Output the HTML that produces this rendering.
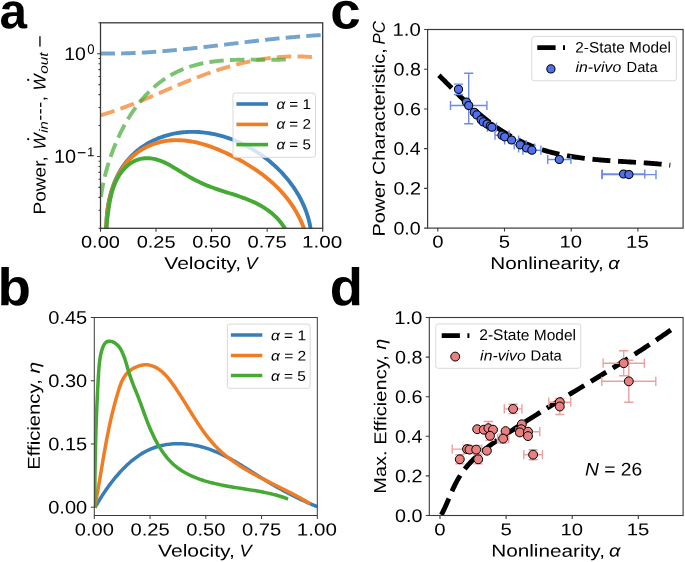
<!DOCTYPE html>
<html><head><meta charset="utf-8"><style>
html,body{margin:0;padding:0;background:#fff;width:685px;height:562px;overflow:hidden}
svg{display:block;will-change:transform}
text{font-family:"Liberation Sans",sans-serif;fill:#000}
</style></head><body>
<svg width="685" height="562" viewBox="0 0 685 562">
<rect width="685" height="562" fill="#fff"/>
<clipPath id="clipA"><rect x="100.50" y="22.80" width="222.20" height="205.50"/></clipPath>
<g clip-path="url(#clipA)" fill="none" stroke-linecap="butt">
<path d="M100.48,53.47 L101.89,53.49 L103.30,53.52 L104.70,53.53 L106.11,53.54 L107.52,53.55 L108.93,53.56 L110.33,53.56 L111.74,53.56 L113.14,53.55 L114.55,53.54 L115.96,53.52 L117.36,53.50 L118.77,53.48 L120.17,53.46 L121.58,53.43 L122.98,53.40 L124.38,53.36 L125.79,53.32 L127.19,53.28 L128.59,53.23 L130.00,53.18 L131.40,53.13 L132.80,53.07 L134.20,53.02 L135.60,52.95 L137.00,52.89 L138.41,52.82 L139.81,52.75 L141.21,52.68 L142.61,52.60 L144.01,52.52 L145.41,52.44 L146.81,52.35 L148.21,52.26 L149.61,52.17 L151.00,52.08 L152.40,51.99 L153.80,51.89 L155.20,51.79 L156.60,51.68 L158.00,51.58 L159.39,51.47 L160.79,51.36 L162.19,51.25 L163.59,51.13 L164.98,51.02 L166.38,50.90 L167.78,50.78 L169.17,50.65 L170.57,50.53 L171.97,50.40 L173.36,50.27 L174.76,50.14 L176.16,50.01 L177.55,49.88 L178.95,49.74 L180.34,49.60 L181.74,49.47 L183.13,49.32 L184.53,49.18 L185.92,49.04 L187.32,48.89 L188.71,48.75 L190.11,48.60 L191.50,48.45 L192.90,48.30 L194.29,48.15 L195.68,48.00 L197.08,47.84 L198.47,47.69 L199.87,47.53 L201.26,47.37 L202.66,47.22 L204.05,47.06 L205.44,46.90 L206.84,46.74 L208.23,46.58 L209.62,46.41 L211.02,46.25 L212.41,46.09 L213.80,45.92 L215.20,45.76 L216.59,45.59 L217.98,45.43 L219.38,45.26 L220.77,45.10 L222.16,44.93 L223.56,44.76 L224.95,44.60 L226.35,44.43 L227.74,44.26 L229.13,44.10 L230.53,43.93 L231.92,43.76 L233.31,43.59 L234.71,43.43 L236.10,43.26 L237.49,43.09 L238.89,42.92 L240.28,42.76 L241.67,42.59 L243.07,42.43 L244.46,42.26 L245.85,42.10 L247.25,41.93 L248.64,41.77 L250.04,41.60 L251.43,41.44 L252.82,41.28 L254.22,41.12 L255.61,40.96 L257.01,40.80 L258.40,40.64 L259.79,40.48 L261.19,40.32 L262.58,40.17 L263.98,40.01 L265.37,39.86 L266.77,39.70 L268.16,39.55 L269.56,39.40 L270.95,39.25 L272.35,39.10 L273.74,38.96 L275.14,38.81 L276.54,38.67 L277.93,38.52 L279.33,38.38 L280.72,38.24 L282.12,38.11 L283.52,37.97 L284.91,37.83 L286.31,37.70 L287.71,37.57 L289.11,37.44 L290.50,37.31 L291.90,37.19 L293.30,37.07 L294.70,36.94 L296.09,36.82 L297.49,36.71 L298.89,36.59 L300.29,36.48 L301.69,36.37 L303.09,36.26 L304.49,36.15 L305.89,36.05 L307.29,35.95 L308.69,35.85 L310.09,35.75 L311.49,35.66 L312.89,35.57 L314.29,35.48 L315.69,35.39 L317.09,35.31 L318.49,35.23 L319.90,35.15 L321.30,35.08 L322.70,35.01" stroke="#377eb8" stroke-opacity="0.7" stroke-width="3.90" stroke-dasharray="14.43 6.24"/>
<path d="M106.62,230.39 L106.55,228.40 L106.52,226.41 L106.51,224.41 L106.55,222.40 L106.61,220.39 L106.71,218.37 L106.84,216.35 L107.00,214.33 L107.20,212.30 L107.43,210.28 L107.69,208.27 L107.99,206.25 L108.33,204.24 L108.69,202.24 L109.10,200.24 L109.54,198.25 L110.01,196.27 L110.52,194.31 L111.07,192.35 L111.65,190.41 L112.27,188.48 L112.92,186.57 L113.61,184.68 L114.34,182.80 L115.10,180.95 L115.90,179.11 L116.74,177.30 L117.62,175.51 L118.53,173.74 L119.48,172.00 L120.48,170.29 L121.50,168.61 L122.57,166.95 L123.68,165.33 L124.82,163.74 L126.01,162.18 L127.23,160.65 L128.49,159.16 L129.80,157.71 L131.14,156.30 L132.52,154.92 L133.93,153.58 L135.38,152.28 L136.87,151.02 L138.38,149.79 L139.93,148.61 L141.51,147.46 L143.11,146.35 L144.75,145.28 L146.41,144.25 L148.09,143.26 L149.80,142.31 L151.53,141.41 L153.28,140.54 L155.06,139.71 L156.85,138.92 L158.65,138.17 L160.48,137.47 L162.32,136.81 L164.17,136.18 L166.03,135.60 L167.91,135.07 L169.79,134.57 L171.68,134.12 L173.59,133.71 L175.49,133.34 L177.41,133.01 L179.33,132.72 L181.26,132.48 L183.19,132.28 L185.13,132.11 L187.07,131.99 L189.01,131.90 L190.96,131.85 L192.91,131.85 L194.86,131.88 L196.82,131.95 L198.77,132.05 L200.72,132.19 L202.68,132.37 L204.63,132.59 L206.59,132.84 L208.54,133.13 L210.48,133.46 L212.43,133.81 L214.37,134.21 L216.31,134.64 L218.25,135.10 L220.17,135.59 L222.10,136.12 L224.01,136.68 L225.93,137.28 L227.83,137.90 L229.73,138.56 L231.61,139.25 L233.49,139.97 L235.36,140.72 L237.22,141.50 L239.07,142.31 L240.91,143.15 L242.74,144.02 L244.56,144.92 L246.36,145.84 L248.15,146.80 L249.93,147.78 L251.69,148.79 L253.44,149.83 L255.17,150.89 L256.89,151.98 L258.59,153.10 L260.27,154.24 L261.94,155.41 L263.59,156.60 L265.22,157.81 L266.84,159.05 L268.43,160.32 L270.00,161.60 L271.56,162.91 L273.09,164.25 L274.60,165.60 L276.09,166.98 L277.55,168.38 L279.00,169.79 L280.41,171.24 L281.81,172.70 L283.18,174.18 L284.52,175.68 L285.84,177.20 L287.14,178.74 L288.40,180.29 L289.64,181.87 L290.85,183.46 L292.04,185.07 L293.19,186.70 L294.31,188.35 L295.41,190.01 L296.47,191.69 L297.50,193.38 L298.50,195.09 L299.47,196.81 L300.41,198.55 L301.31,200.30 L302.18,202.07 L303.01,203.85 L303.81,205.64 L304.58,207.45 L305.31,209.27 L306.00,211.10 L306.65,212.94 L307.27,214.79 L307.85,216.66 L308.39,218.53 L308.89,220.42 L309.36,222.31 L309.78,224.22 L310.16,226.13 L310.50,228.06 L310.80,229.99 L311.05,231.93" stroke="#377eb8" stroke-width="3.90"/>
<path d="M100.77,115.19 L102.12,114.80 L103.47,114.40 L104.82,114.00 L106.17,113.58 L107.52,113.17 L108.86,112.74 L110.21,112.31 L111.55,111.87 L112.88,111.43 L114.22,110.98 L115.56,110.52 L116.89,110.06 L118.22,109.60 L119.55,109.12 L120.88,108.65 L122.21,108.16 L123.53,107.68 L124.86,107.18 L126.18,106.69 L127.50,106.19 L128.82,105.68 L130.14,105.17 L131.46,104.66 L132.78,104.14 L134.09,103.62 L135.41,103.09 L136.72,102.57 L138.04,102.03 L139.35,101.50 L140.66,100.96 L141.97,100.42 L143.28,99.88 L144.59,99.34 L145.90,98.79 L147.21,98.24 L148.51,97.69 L149.82,97.14 L151.13,96.59 L152.43,96.03 L153.74,95.47 L155.05,94.92 L156.35,94.36 L157.66,93.80 L158.96,93.24 L160.27,92.68 L161.57,92.12 L162.87,91.56 L164.18,91.00 L165.48,90.44 L166.79,89.88 L168.09,89.32 L169.40,88.76 L170.70,88.20 L172.01,87.64 L173.32,87.09 L174.62,86.53 L175.93,85.98 L177.24,85.43 L178.54,84.88 L179.85,84.33 L181.16,83.79 L182.47,83.24 L183.78,82.70 L185.09,82.17 L186.41,81.63 L187.72,81.10 L189.03,80.57 L190.35,80.04 L191.66,79.52 L192.98,79.00 L194.30,78.48 L195.62,77.97 L196.94,77.46 L198.26,76.96 L199.58,76.46 L200.90,75.96 L202.23,75.47 L203.55,74.98 L204.88,74.50 L206.21,74.02 L207.54,73.54 L208.87,73.07 L210.20,72.61 L211.53,72.15 L212.87,71.69 L214.20,71.24 L215.54,70.79 L216.88,70.35 L218.22,69.91 L219.56,69.48 L220.90,69.06 L222.24,68.64 L223.59,68.22 L224.93,67.81 L226.28,67.41 L227.63,67.01 L228.98,66.62 L230.33,66.24 L231.69,65.86 L233.04,65.48 L234.40,65.11 L235.76,64.75 L237.12,64.40 L238.48,64.05 L239.84,63.71 L241.21,63.37 L242.57,63.05 L243.94,62.72 L245.31,62.41 L246.68,62.10 L248.06,61.80 L249.43,61.51 L250.81,61.22 L252.19,60.94 L253.57,60.67 L254.95,60.41 L256.33,60.15 L257.72,59.90 L259.11,59.66 L260.50,59.43 L261.89,59.21 L263.28,58.99 L264.68,58.78 L266.08,58.58 L267.47,58.39 L268.88,58.21 L270.28,58.03 L271.68,57.87 L273.09,57.71 L274.50,57.56 L275.91,57.42 L277.33,57.29 L278.74,57.17 L280.16,57.05 L281.58,56.95 L283.00,56.86 L284.42,56.77 L285.85,56.70 L287.28,56.63 L288.71,56.57 L290.14,56.53 L291.58,56.49 L293.02,56.46 L294.46,56.45 L295.90,56.44 L297.34,56.44 L298.79,56.46 L300.24,56.48 L301.69,56.51 L303.14,56.56 L304.60,56.62 L306.06,56.68 L307.52,56.76 L308.98,56.85 L310.45,56.95 L311.92,57.06 L313.39,57.18 L314.86,57.31 L316.34,57.45" stroke="#f07d23" stroke-opacity="0.7" stroke-width="3.90" stroke-dasharray="14.43 6.24"/>
<path d="M106.42,230.19 L106.39,228.42 L106.38,226.63 L106.40,224.82 L106.44,223.00 L106.51,221.17 L106.61,219.32 L106.74,217.47 L106.90,215.60 L107.09,213.73 L107.30,211.85 L107.55,209.97 L107.82,208.08 L108.12,206.19 L108.46,204.31 L108.82,202.42 L109.22,200.54 L109.64,198.66 L110.10,196.79 L110.59,194.93 L111.11,193.07 L111.66,191.23 L112.24,189.40 L112.86,187.58 L113.51,185.78 L114.19,183.99 L114.91,182.22 L115.66,180.48 L116.45,178.75 L117.26,177.05 L118.12,175.37 L119.01,173.72 L119.93,172.10 L120.89,170.50 L121.88,168.94 L122.91,167.40 L123.98,165.90 L125.08,164.44 L126.22,163.01 L127.40,161.63 L128.61,160.28 L129.87,158.97 L131.15,157.70 L132.48,156.48 L133.84,155.30 L135.23,154.16 L136.65,153.06 L138.10,152.01 L139.59,151.00 L141.10,150.03 L142.63,149.11 L144.20,148.23 L145.78,147.39 L147.39,146.60 L149.03,145.85 L150.68,145.15 L152.35,144.50 L154.04,143.88 L155.75,143.32 L157.47,142.80 L159.21,142.32 L160.96,141.90 L162.72,141.52 L164.49,141.18 L166.27,140.89 L168.06,140.65 L169.86,140.46 L171.66,140.31 L173.47,140.22 L175.28,140.16 L177.10,140.15 L178.92,140.19 L180.75,140.26 L182.57,140.38 L184.40,140.54 L186.24,140.74 L188.07,140.97 L189.90,141.25 L191.74,141.56 L193.58,141.90 L195.41,142.28 L197.25,142.70 L199.08,143.14 L200.91,143.62 L202.74,144.13 L204.57,144.67 L206.39,145.23 L208.21,145.83 L210.03,146.45 L211.84,147.09 L213.64,147.76 L215.44,148.46 L217.24,149.17 L219.03,149.91 L220.81,150.67 L222.58,151.44 L224.35,152.24 L226.11,153.05 L227.86,153.88 L229.60,154.73 L231.33,155.59 L233.05,156.46 L234.76,157.34 L236.45,158.24 L238.14,159.15 L239.82,160.06 L241.48,160.99 L243.13,161.93 L244.77,162.88 L246.39,163.85 L248.00,164.82 L249.60,165.81 L251.18,166.80 L252.75,167.81 L254.31,168.84 L255.85,169.87 L257.38,170.92 L258.89,171.99 L260.38,173.06 L261.86,174.15 L263.33,175.26 L264.78,176.38 L266.21,177.51 L267.62,178.66 L269.02,179.82 L270.40,181.00 L271.77,182.20 L273.11,183.41 L274.44,184.63 L275.75,185.87 L277.04,187.13 L278.31,188.41 L279.57,189.70 L280.80,191.01 L282.01,192.34 L283.21,193.68 L284.38,195.05 L285.54,196.43 L286.67,197.83 L287.78,199.24 L288.87,200.68 L289.94,202.14 L290.99,203.61 L292.02,205.11 L293.02,206.62 L294.00,208.16 L294.96,209.71 L295.90,211.29 L296.81,212.88 L297.70,214.50 L298.56,216.14 L299.40,217.80 L300.22,219.48 L301.01,221.19 L301.78,222.91 L302.52,224.66 L303.24,226.43 L303.93,228.23 L304.59,230.05 L305.23,231.89" stroke="#f07d23" stroke-width="3.90"/>
<path d="M100.89,196.97 L101.12,195.42 L101.36,193.86 L101.61,192.30 L101.87,190.73 L102.15,189.15 L102.45,187.57 L102.75,185.98 L103.07,184.38 L103.41,182.78 L103.76,181.17 L104.12,179.56 L104.49,177.95 L104.88,176.33 L105.28,174.71 L105.70,173.08 L106.13,171.46 L106.57,169.83 L107.02,168.20 L107.49,166.56 L107.98,164.93 L108.48,163.30 L108.99,161.66 L109.51,160.03 L110.05,158.40 L110.60,156.76 L111.17,155.13 L111.75,153.51 L112.34,151.88 L112.95,150.26 L113.57,148.63 L114.21,147.02 L114.86,145.40 L115.52,143.79 L116.20,142.19 L116.89,140.59 L117.59,139.00 L118.31,137.41 L119.05,135.83 L119.79,134.25 L120.56,132.68 L121.33,131.12 L122.12,129.57 L122.92,128.02 L123.74,126.49 L124.57,124.96 L125.42,123.44 L126.28,121.94 L127.15,120.44 L128.04,118.95 L128.94,117.47 L129.86,116.01 L130.79,114.56 L131.73,113.12 L132.69,111.69 L133.67,110.27 L134.65,108.87 L135.65,107.48 L136.67,106.11 L137.70,104.75 L138.75,103.41 L139.81,102.08 L140.88,100.77 L141.97,99.47 L143.07,98.19 L144.19,96.93 L145.32,95.68 L146.46,94.45 L147.62,93.24 L148.80,92.05 L149.99,90.88 L151.19,89.73 L152.41,88.59 L153.64,87.48 L154.89,86.39 L156.15,85.32 L157.42,84.27 L158.72,83.24 L160.02,82.23 L161.34,81.25 L162.68,80.29 L164.02,79.35 L165.39,78.44 L166.77,77.55 L168.16,76.68 L169.57,75.84 L170.99,75.02 L172.42,74.23 L173.87,73.46 L175.33,72.71 L176.80,71.99 L178.29,71.29 L179.79,70.61 L181.30,69.95 L182.82,69.32 L184.35,68.71 L185.90,68.13 L187.45,67.56 L189.02,67.02 L190.60,66.50 L192.18,66.01 L193.78,65.53 L195.39,65.08 L197.00,64.65 L198.63,64.25 L200.26,63.86 L201.90,63.50 L203.55,63.16 L205.21,62.84 L206.88,62.54 L208.55,62.25 L210.23,61.99 L211.92,61.74 L213.62,61.52 L215.31,61.31 L217.02,61.11 L218.73,60.93 L220.44,60.77 L222.16,60.62 L223.88,60.48 L225.61,60.36 L227.34,60.25 L229.07,60.15 L230.81,60.06 L232.55,59.98 L234.29,59.92 L236.03,59.86 L237.77,59.81 L239.51,59.77 L241.26,59.74 L243.00,59.71 L244.74,59.70 L246.49,59.68 L248.23,59.67 L249.97,59.67 L251.71,59.67 L253.44,59.67 L255.18,59.68 L256.91,59.69 L258.64,59.70 L260.36,59.71 L262.08,59.72 L263.80,59.73 L265.51,59.74 L267.22,59.74 L268.93,59.75 L270.62,59.75 L272.31,59.75 L274.00,59.74 L275.68,59.73 L277.35,59.72 L279.01,59.70 L280.67,59.67 L282.32,59.63 L283.96,59.59 L285.59,59.54 L287.21,59.48 L288.82,59.41 L290.42,59.33 L292.02,59.24" stroke="#44aa34" stroke-opacity="0.7" stroke-width="3.90" stroke-dasharray="14.43 6.24"/>
<path d="M105.75,229.80 L105.98,228.42 L106.20,227.01 L106.41,225.57 L106.62,224.11 L106.82,222.62 L107.01,221.11 L107.21,219.59 L107.40,218.04 L107.60,216.48 L107.79,214.91 L108.00,213.32 L108.21,211.72 L108.43,210.11 L108.66,208.50 L108.90,206.87 L109.16,205.25 L109.43,203.62 L109.72,201.99 L110.02,200.36 L110.35,198.73 L110.70,197.10 L111.08,195.48 L111.48,193.87 L111.90,192.27 L112.36,190.68 L112.85,189.10 L113.37,187.54 L113.92,185.99 L114.51,184.45 L115.14,182.94 L115.81,181.45 L116.52,179.98 L117.27,178.54 L118.06,177.12 L118.91,175.73 L119.79,174.36 L120.72,173.04 L121.69,171.75 L122.70,170.50 L123.75,169.30 L124.84,168.14 L125.96,167.03 L127.12,165.97 L128.31,164.97 L129.54,164.02 L130.79,163.14 L132.08,162.33 L133.39,161.58 L134.74,160.90 L136.10,160.30 L137.49,159.77 L138.91,159.32 L140.34,158.95 L141.80,158.66 L143.27,158.44 L144.75,158.29 L146.24,158.22 L147.75,158.21 L149.26,158.28 L150.77,158.41 L152.29,158.61 L153.80,158.87 L155.31,159.20 L156.82,159.59 L158.32,160.04 L159.81,160.55 L161.29,161.11 L162.76,161.71 L164.23,162.37 L165.69,163.06 L167.14,163.79 L168.58,164.55 L170.02,165.33 L171.45,166.14 L172.87,166.97 L174.29,167.81 L175.70,168.66 L177.11,169.52 L178.51,170.37 L179.91,171.22 L181.30,172.07 L182.68,172.91 L184.07,173.73 L185.45,174.55 L186.82,175.35 L188.20,176.15 L189.58,176.93 L190.96,177.70 L192.34,178.46 L193.72,179.20 L195.11,179.93 L196.50,180.65 L197.89,181.35 L199.29,182.04 L200.70,182.71 L202.12,183.37 L203.54,184.01 L204.97,184.63 L206.42,185.23 L207.87,185.82 L209.33,186.39 L210.80,186.95 L212.28,187.50 L213.76,188.03 L215.25,188.56 L216.75,189.07 L218.25,189.58 L219.75,190.08 L221.27,190.57 L222.78,191.06 L224.30,191.55 L225.81,192.04 L227.33,192.52 L228.86,193.00 L230.38,193.49 L231.90,193.97 L233.42,194.46 L234.94,194.96 L236.46,195.46 L237.97,195.97 L239.48,196.49 L240.99,197.01 L242.49,197.55 L243.99,198.10 L245.48,198.67 L246.97,199.24 L248.45,199.83 L249.92,200.44 L251.38,201.07 L252.84,201.72 L254.28,202.38 L255.72,203.07 L257.15,203.78 L258.56,204.52 L259.96,205.28 L261.35,206.06 L262.73,206.87 L264.10,207.71 L265.44,208.58 L266.78,209.48 L268.09,210.41 L269.38,211.36 L270.66,212.34 L271.90,213.36 L273.13,214.39 L274.32,215.46 L275.49,216.56 L276.63,217.68 L277.73,218.83 L278.80,220.01 L279.84,221.21 L280.83,222.45 L281.79,223.71 L282.71,225.00 L283.59,226.31 L284.42,227.65 L285.20,229.02 L285.94,230.42 L286.63,231.84" stroke="#44aa34" stroke-width="3.90"/>
</g>
<rect x="100.50" y="22.80" width="222.20" height="205.50" fill="none" stroke="#3a3a3a" stroke-width="1.30"/>
<path d="M100.50,228.30v3.4 M156.05,228.30v3.4 M211.60,228.30v3.4 M267.15,228.30v3.4 M322.70,228.30v3.4 M100.50,228.30h-2.00 M100.50,210.21h-2.00 M100.50,197.37h-2.00 M100.50,187.41h-2.00 M100.50,179.28h-2.00 M100.50,172.40h-2.00 M100.50,166.44h-2.00 M100.50,161.18h-2.00 M100.50,156.48h-3.40 M100.50,125.55h-2.00 M100.50,107.46h-2.00 M100.50,94.62h-2.00 M100.50,84.66h-2.00 M100.50,76.53h-2.00 M100.50,69.65h-2.00 M100.50,63.69h-2.00 M100.50,58.43h-2.00 M100.50,53.73h-3.40 M100.50,22.80h-2.00" stroke="#3a3a3a" stroke-width="1.1" fill="none"/>
<rect x="233" y="93" width="82.5" height="64.3" rx="2.5" fill="#fff" fill-opacity="0.8" stroke="#d9d9d9" stroke-width="1"/>
<path d="M236.4,104.0H268" stroke="#377eb8" stroke-width="3.6"/>
<path d="M236.4,124.4H268" stroke="#f07d23" stroke-width="3.6"/>
<path d="M236.4,144.6H268" stroke="#44aa34" stroke-width="3.6"/>
<clipPath id="clipB"><rect x="94.30" y="317.50" width="223.00" height="198.00"/></clipPath>
<g clip-path="url(#clipB)" fill="none" stroke-linecap="butt">
<path d="M94.93,507.54 L95.70,506.20 L96.49,504.85 L97.29,503.49 L98.11,502.12 L98.94,500.74 L99.79,499.35 L100.66,497.96 L101.55,496.57 L102.45,495.17 L103.37,493.77 L104.30,492.37 L105.25,490.97 L106.22,489.57 L107.20,488.17 L108.20,486.77 L109.21,485.38 L110.24,483.99 L111.29,482.61 L112.35,481.24 L113.42,479.88 L114.51,478.52 L115.62,477.18 L116.74,475.85 L117.88,474.53 L119.03,473.23 L120.20,471.94 L121.38,470.66 L122.58,469.41 L123.79,468.17 L125.02,466.95 L126.26,465.75 L127.51,464.58 L128.78,463.42 L130.07,462.29 L131.36,461.19 L132.68,460.11 L134.00,459.06 L135.34,458.03 L136.70,457.04 L138.07,456.07 L139.45,455.14 L140.84,454.24 L142.25,453.37 L143.67,452.54 L145.11,451.74 L146.56,450.98 L148.02,450.26 L149.50,449.58 L150.99,448.93 L152.49,448.33 L154.00,447.76 L155.52,447.24 L157.06,446.75 L158.60,446.30 L160.16,445.88 L161.72,445.51 L163.29,445.17 L164.87,444.86 L166.46,444.60 L168.05,444.36 L169.65,444.16 L171.26,444.00 L172.87,443.87 L174.48,443.78 L176.10,443.72 L177.72,443.69 L179.35,443.69 L180.97,443.73 L182.60,443.80 L184.23,443.90 L185.86,444.03 L187.49,444.19 L189.12,444.38 L190.75,444.61 L192.38,444.86 L194.00,445.14 L195.63,445.45 L197.24,445.79 L198.86,446.15 L200.47,446.55 L202.07,446.97 L203.67,447.41 L205.26,447.89 L206.85,448.39 L208.43,448.91 L210.00,449.46 L211.56,450.04 L213.11,450.64 L214.66,451.26 L216.20,451.91 L217.73,452.57 L219.25,453.26 L220.77,453.96 L222.28,454.69 L223.78,455.43 L225.28,456.19 L226.77,456.96 L228.26,457.75 L229.74,458.55 L231.21,459.37 L232.68,460.19 L234.15,461.03 L235.61,461.88 L237.06,462.74 L238.52,463.61 L239.97,464.48 L241.41,465.36 L242.85,466.25 L244.29,467.14 L245.73,468.03 L247.16,468.93 L248.60,469.83 L250.03,470.74 L251.46,471.64 L252.88,472.54 L254.31,473.44 L255.73,474.34 L257.16,475.23 L258.58,476.12 L260.01,477.00 L261.43,477.88 L262.85,478.76 L264.28,479.62 L265.70,480.49 L267.13,481.34 L268.56,482.19 L269.98,483.04 L271.41,483.88 L272.84,484.71 L274.28,485.54 L275.71,486.36 L277.15,487.17 L278.58,487.98 L280.03,488.78 L281.47,489.58 L282.92,490.37 L284.36,491.16 L285.82,491.93 L287.27,492.71 L288.73,493.47 L290.19,494.23 L291.66,494.98 L293.13,495.73 L294.61,496.47 L296.08,497.20 L297.57,497.93 L299.06,498.64 L300.55,499.36 L302.05,500.06 L303.55,500.76 L305.06,501.45 L306.58,502.14 L308.10,502.82 L309.62,503.49 L311.16,504.15 L312.70,504.81 L314.24,505.46 L315.79,506.10 L317.35,506.74" stroke="#377eb8" stroke-width="3.50"/>
<path d="M94.69,507.40 L95.16,504.97 L95.62,502.54 L96.07,500.13 L96.52,497.72 L96.96,495.31 L97.39,492.92 L97.81,490.52 L98.23,488.14 L98.64,485.76 L99.05,483.38 L99.46,481.01 L99.86,478.64 L100.26,476.28 L100.66,473.92 L101.05,471.56 L101.45,469.21 L101.84,466.86 L102.24,464.52 L102.64,462.17 L103.04,459.83 L103.44,457.50 L103.84,455.16 L104.25,452.82 L104.66,450.49 L105.08,448.16 L105.50,445.83 L105.93,443.50 L106.37,441.17 L106.81,438.84 L107.26,436.51 L107.72,434.18 L108.18,431.85 L108.66,429.52 L109.15,427.19 L109.65,424.86 L110.16,422.52 L110.68,420.19 L111.21,417.85 L111.76,415.51 L112.32,413.17 L112.90,410.82 L113.49,408.47 L114.09,406.12 L114.71,403.76 L115.35,401.41 L116.01,399.04 L116.69,396.68 L117.38,394.30 L118.09,391.93 L118.83,389.55 L119.60,387.18 L120.43,384.84 L121.34,382.54 L122.35,380.31 L123.49,378.17 L124.77,376.13 L126.21,374.21 L127.85,372.43 L129.67,370.81 L131.66,369.36 L133.77,368.09 L135.97,367.01 L138.23,366.13 L140.51,365.47 L142.79,365.03 L145.03,364.82 L147.20,364.86 L149.32,365.12 L151.38,365.60 L153.38,366.28 L155.33,367.14 L157.22,368.19 L159.06,369.39 L160.86,370.75 L162.61,372.24 L164.31,373.86 L165.98,375.59 L167.60,377.41 L169.19,379.32 L170.74,381.31 L172.26,383.35 L173.75,385.43 L175.22,387.55 L176.65,389.70 L178.06,391.84 L179.45,393.99 L180.82,396.13 L182.17,398.27 L183.51,400.40 L184.83,402.53 L186.14,404.64 L187.45,406.75 L188.74,408.85 L190.03,410.94 L191.32,413.01 L192.61,415.07 L193.89,417.12 L195.19,419.16 L196.48,421.17 L197.79,423.17 L199.10,425.15 L200.43,427.11 L201.77,429.06 L203.13,430.97 L204.50,432.87 L205.90,434.75 L207.32,436.59 L208.76,438.42 L210.23,440.21 L211.73,441.98 L213.26,443.72 L214.82,445.43 L216.42,447.11 L218.05,448.76 L219.73,450.37 L221.44,451.95 L223.19,453.50 L224.98,455.02 L226.80,456.51 L228.66,457.97 L230.55,459.40 L232.47,460.80 L234.42,462.18 L236.40,463.53 L238.40,464.86 L240.42,466.17 L242.47,467.46 L244.54,468.73 L246.63,469.97 L248.74,471.20 L250.86,472.42 L252.99,473.61 L255.14,474.80 L257.31,475.96 L259.48,477.12 L261.66,478.26 L263.84,479.40 L266.03,480.52 L268.23,481.64 L270.43,482.75 L272.62,483.85 L274.82,484.95 L277.01,486.04 L279.20,487.13 L281.39,488.22 L283.56,489.31 L285.73,490.39 L287.88,491.48 L290.03,492.58 L292.16,493.67 L294.27,494.77 L296.37,495.88 L298.45,496.99 L300.51,498.11 L302.55,499.24 L304.56,500.38 L306.55,501.53 L308.51,502.70 L310.45,503.87" stroke="#f07d23" stroke-width="3.50"/>
<path d="M94.68,507.36 L94.69,504.57 L94.71,501.79 L94.73,499.01 L94.75,496.24 L94.77,493.48 L94.80,490.72 L94.82,487.97 L94.85,485.22 L94.88,482.48 L94.91,479.75 L94.95,477.02 L94.99,474.29 L95.02,471.57 L95.07,468.85 L95.11,466.13 L95.16,463.42 L95.21,460.71 L95.26,458.00 L95.32,455.29 L95.37,452.59 L95.43,449.88 L95.50,447.18 L95.56,444.48 L95.63,441.78 L95.71,439.07 L95.78,436.37 L95.86,433.67 L95.95,430.96 L96.03,428.26 L96.12,425.55 L96.22,422.84 L96.31,420.13 L96.41,417.41 L96.52,414.69 L96.63,411.97 L96.74,409.24 L96.85,406.51 L96.97,403.78 L97.10,401.04 L97.23,398.29 L97.36,395.54 L97.50,392.79 L97.64,390.03 L97.78,387.26 L97.94,384.48 L98.09,381.70 L98.25,378.91 L98.41,376.11 L98.58,373.31 L98.76,370.50 L98.97,367.68 L99.21,364.86 L99.51,362.05 L99.89,359.24 L100.36,356.44 L100.93,353.66 L101.63,350.90 L102.48,348.18 L103.51,345.66 L104.77,343.55 L106.30,342.05 L108.11,341.27 L110.11,341.15 L112.21,341.62 L114.31,342.59 L116.31,343.99 L118.13,345.74 L119.74,347.79 L121.16,350.09 L122.43,352.61 L123.56,355.30 L124.59,358.13 L125.54,361.04 L126.43,364.01 L127.29,366.99 L128.15,369.94 L129.03,372.82 L129.94,375.61 L130.88,378.32 L131.85,380.96 L132.82,383.54 L133.81,386.07 L134.80,388.56 L135.79,391.02 L136.77,393.46 L137.74,395.89 L138.69,398.32 L139.62,400.76 L140.53,403.22 L141.42,405.68 L142.31,408.16 L143.21,410.65 L144.11,413.15 L145.03,415.67 L145.97,418.20 L146.94,420.75 L147.95,423.32 L148.99,425.89 L150.07,428.46 L151.19,431.03 L152.36,433.59 L153.56,436.14 L154.82,438.66 L156.12,441.15 L157.47,443.61 L158.87,446.03 L160.33,448.40 L161.84,450.72 L163.41,452.98 L165.04,455.18 L166.72,457.31 L168.48,459.35 L170.29,461.32 L172.18,463.20 L174.13,464.98 L176.15,466.67 L178.23,468.27 L180.37,469.78 L182.58,471.20 L184.84,472.55 L187.15,473.82 L189.52,475.01 L191.93,476.14 L194.39,477.19 L196.89,478.19 L199.43,479.12 L202.01,480.00 L204.62,480.83 L207.26,481.60 L209.94,482.33 L212.64,483.02 L215.36,483.67 L218.11,484.28 L220.87,484.86 L223.65,485.42 L226.45,485.94 L229.25,486.45 L232.06,486.93 L234.88,487.41 L237.69,487.87 L240.51,488.32 L243.32,488.77 L246.13,489.21 L248.93,489.66 L251.72,490.12 L254.49,490.58 L257.25,491.06 L259.98,491.55 L262.70,492.06 L265.39,492.60 L268.05,493.16 L270.68,493.75 L273.28,494.37 L275.84,495.04 L278.37,495.74 L280.85,496.48 L283.29,497.28 L285.68,498.12 L288.03,499.02" stroke="#44aa34" stroke-width="3.50"/>
</g>
<rect x="94.30" y="317.50" width="223.00" height="198.00" fill="none" stroke="#3a3a3a" stroke-width="1.00"/>
<path d="M94.30,515.50v3.5 M150.05,515.50v3.5 M205.80,515.50v3.5 M261.55,515.50v3.5 M317.30,515.50v3.5 M94.30,507.20h-3.5 M94.30,443.98h-3.5 M94.30,380.75h-3.5 M94.30,317.52h-3.5" stroke="#3a3a3a" stroke-width="1.0" fill="none"/>
<rect x="227.4" y="324.1" width="82.8" height="64.2" rx="2.5" fill="#fff" fill-opacity="0.8" stroke="#d9d9d9" stroke-width="1"/>
<path d="M230.9,335.0H262.3" stroke="#377eb8" stroke-width="3.5"/>
<path d="M230.9,355.4H262.3" stroke="#f07d23" stroke-width="3.5"/>
<path d="M230.9,375.6H262.3" stroke="#44aa34" stroke-width="3.5"/>
<clipPath id="clipC"><rect x="427.60" y="29.50" width="255.50" height="198.60"/></clipPath>
<g clip-path="url(#clipC)">
<path d="M438.95,75.35 L440.10,76.48 L441.25,77.62 L442.40,78.75 L443.55,79.90 L444.70,81.04 L445.85,82.19 L447.00,83.34 L448.16,84.49 L449.31,85.64 L450.47,86.79 L451.63,87.95 L452.78,89.10 L453.95,90.26 L455.11,91.41 L456.27,92.56 L457.44,93.72 L458.61,94.87 L459.78,96.02 L460.96,97.16 L462.14,98.31 L463.32,99.45 L464.50,100.58 L465.69,101.72 L466.88,102.84 L468.08,103.97 L469.28,105.09 L470.48,106.20 L471.69,107.31 L472.90,108.41 L474.12,109.51 L475.34,110.59 L476.57,111.68 L477.80,112.75 L479.04,113.81 L480.28,114.87 L481.53,115.92 L482.78,116.95 L484.04,117.98 L485.31,119.00 L486.58,120.01 L487.86,121.01 L489.15,121.99 L490.44,122.97 L491.74,123.93 L493.05,124.88 L494.36,125.82 L495.68,126.74 L497.01,127.66 L498.34,128.56 L499.68,129.44 L501.03,130.32 L502.39,131.18 L503.75,132.04 L505.12,132.87 L506.49,133.70 L507.87,134.51 L509.26,135.31 L510.65,136.10 L512.05,136.87 L513.46,137.63 L514.88,138.38 L516.30,139.11 L517.72,139.83 L519.16,140.54 L520.60,141.23 L522.04,141.91 L523.49,142.58 L524.95,143.23 L526.42,143.87 L527.89,144.49 L529.36,145.10 L530.85,145.70 L532.34,146.28 L533.83,146.85 L535.33,147.40 L536.84,147.94 L538.35,148.47 L539.87,148.98 L541.40,149.47 L542.93,149.96 L544.47,150.42 L546.01,150.88 L547.56,151.32 L549.11,151.74 L550.67,152.16 L552.23,152.56 L553.80,152.95 L555.37,153.33 L556.95,153.69 L558.53,154.04 L560.11,154.39 L561.70,154.72 L563.30,155.04 L564.89,155.35 L566.50,155.64 L568.10,155.93 L569.71,156.21 L571.32,156.48 L572.93,156.74 L574.55,156.99 L576.17,157.23 L577.80,157.47 L579.42,157.69 L581.05,157.91 L582.68,158.12 L584.31,158.32 L585.95,158.52 L587.58,158.70 L589.22,158.88 L590.86,159.06 L592.50,159.23 L594.15,159.39 L595.79,159.55 L597.43,159.70 L599.08,159.84 L600.73,159.99 L602.37,160.12 L604.02,160.26 L605.67,160.38 L607.32,160.51 L608.97,160.63 L610.61,160.75 L612.26,160.86 L613.91,160.97 L615.56,161.08 L617.20,161.19 L618.85,161.30 L620.50,161.40 L622.14,161.50 L623.78,161.60 L625.42,161.70 L627.06,161.80 L628.70,161.90 L630.34,162.00 L631.97,162.10 L633.61,162.20 L635.24,162.30 L636.87,162.40 L638.49,162.50 L640.12,162.60 L641.74,162.71 L643.35,162.81 L644.97,162.92 L646.58,163.04 L648.19,163.15 L649.79,163.27 L651.40,163.39 L652.99,163.51 L654.59,163.64 L656.18,163.77 L657.76,163.91 L659.35,164.05 L660.92,164.19 L662.50,164.34 L664.06,164.50 L665.63,164.66 L667.19,164.83 L668.74,165.00 L670.29,165.18" fill="none" stroke="#000" stroke-width="4.85" stroke-dasharray="17.95 7.76"/>
<path d="M458.50,84.10V94.50 M453.90,84.10h9.20 M453.90,94.50h9.20 M468.70,73.30V123.70 M464.10,73.30h9.20 M464.10,123.70h9.20 M450.50,105.50H486.90 M450.50,100.90v9.20 M486.90,100.90v9.20 M487.40,127.20H496.40 M487.40,122.60v9.20 M496.40,122.60v9.20 M495.00,135.20H509.00 M495.00,130.60v9.20 M509.00,130.60v9.20 M504.60,140.00H518.60 M504.60,135.40v9.20 M518.60,135.40v9.20 M514.20,144.80H526.20 M514.20,140.20v9.20 M526.20,140.20v9.20 M518.60,148.00H534.60 M518.60,143.40v9.20 M534.60,143.40v9.20 M522.90,150.20H540.90 M522.90,145.60v9.20 M540.90,145.60v9.20 M547.70,159.50H570.90 M547.70,154.90v9.20 M570.90,154.90v9.20 M602.40,174.00H644.80 M602.40,169.40v9.20 M644.80,169.40v9.20 M601.80,174.60H656.00 M601.80,170.00v9.20 M656.00,170.00v9.20" fill="none" stroke="#6d8ce8" stroke-width="1.4"/>
<circle cx="458.50" cy="89.30" r="4.1" fill="#5070ec" stroke="#000" stroke-width="1.05"/>
<circle cx="466.40" cy="102.00" r="4.1" fill="#5070ec" stroke="#000" stroke-width="1.05"/>
<circle cx="468.70" cy="105.50" r="4.1" fill="#5070ec" stroke="#000" stroke-width="1.05"/>
<circle cx="474.30" cy="112.30" r="4.1" fill="#5070ec" stroke="#000" stroke-width="1.05"/>
<circle cx="476.90" cy="114.90" r="4.1" fill="#5070ec" stroke="#000" stroke-width="1.05"/>
<circle cx="481.20" cy="119.70" r="4.1" fill="#5070ec" stroke="#000" stroke-width="1.05"/>
<circle cx="483.30" cy="121.90" r="4.1" fill="#5070ec" stroke="#000" stroke-width="1.05"/>
<circle cx="487.10" cy="124.00" r="4.1" fill="#5070ec" stroke="#000" stroke-width="1.05"/>
<circle cx="490.30" cy="126.10" r="4.1" fill="#5070ec" stroke="#000" stroke-width="1.05"/>
<circle cx="491.90" cy="127.20" r="4.1" fill="#5070ec" stroke="#000" stroke-width="1.05"/>
<circle cx="502.00" cy="135.20" r="4.1" fill="#5070ec" stroke="#000" stroke-width="1.05"/>
<circle cx="504.70" cy="136.80" r="4.1" fill="#5070ec" stroke="#000" stroke-width="1.05"/>
<circle cx="511.60" cy="140.00" r="4.1" fill="#5070ec" stroke="#000" stroke-width="1.05"/>
<circle cx="520.20" cy="144.80" r="4.1" fill="#5070ec" stroke="#000" stroke-width="1.05"/>
<circle cx="526.60" cy="148.00" r="4.1" fill="#5070ec" stroke="#000" stroke-width="1.05"/>
<circle cx="531.90" cy="150.20" r="4.1" fill="#5070ec" stroke="#000" stroke-width="1.05"/>
<circle cx="559.30" cy="159.50" r="4.1" fill="#5070ec" stroke="#000" stroke-width="1.05"/>
<circle cx="623.60" cy="174.00" r="4.1" fill="#5070ec" stroke="#000" stroke-width="1.05"/>
<circle cx="628.90" cy="174.60" r="4.1" fill="#5070ec" stroke="#000" stroke-width="1.05"/>
</g>
<rect x="427.60" y="29.50" width="255.50" height="198.60" fill="none" stroke="#3a3a3a" stroke-width="1.2"/>
<path d="M437.80,228.10v3.5 M504.50,228.10v3.5 M571.20,228.10v3.5 M637.90,228.10v3.5 M427.60,228.10h-3.5 M427.60,188.38h-3.5 M427.60,148.66h-3.5 M427.60,108.94h-3.5 M427.60,69.22h-3.5 M427.60,29.50h-3.5" stroke="#3a3a3a" stroke-width="1.1" fill="none"/>
<rect x="531.8" y="36.4" width="144.6" height="44.4" rx="2.5" fill="#fff" fill-opacity="0.8" stroke="#d9d9d9" stroke-width="1"/>
<path d="M537.3,47.6H555.6 M563,47.6H565" stroke="#000" stroke-width="4.8"/>
<circle cx="550.9" cy="68.9" r="4.1" fill="#5070ec" stroke="#000" stroke-width="1.05"/>
<clipPath id="clipD"><rect x="429.30" y="317.50" width="253.80" height="198.00"/></clipPath>
<g clip-path="url(#clipD)">
<path d="M441.39,514.78 L442.26,513.09 L443.10,511.39 L443.93,509.67 L444.73,507.94 L445.52,506.20 L446.30,504.45 L447.07,502.69 L447.83,500.92 L448.59,499.15 L449.34,497.38 L450.10,495.61 L450.86,493.85 L451.63,492.09 L452.41,490.33 L453.20,488.59 L454.01,486.86 L454.83,485.15 L455.68,483.45 L456.54,481.77 L457.44,480.12 L458.36,478.48 L459.32,476.87 L460.31,475.29 L461.34,473.74 L462.40,472.21 L463.49,470.71 L464.61,469.24 L465.76,467.79 L466.95,466.36 L468.16,464.96 L469.39,463.58 L470.66,462.22 L471.95,460.88 L473.26,459.56 L474.60,458.26 L475.96,456.98 L477.34,455.72 L478.74,454.48 L480.16,453.25 L481.60,452.03 L483.05,450.83 L484.52,449.65 L486.01,448.48 L487.51,447.32 L489.03,446.17 L490.56,445.04 L492.10,443.91 L493.64,442.80 L495.20,441.69 L496.77,440.60 L498.34,439.50 L499.92,438.42 L501.51,437.34 L503.10,436.27 L504.69,435.20 L506.29,434.14 L507.88,433.07 L509.48,432.02 L511.08,430.96 L512.68,429.91 L514.29,428.86 L515.89,427.81 L517.50,426.77 L519.11,425.73 L520.72,424.69 L522.33,423.66 L523.94,422.62 L525.56,421.59 L527.17,420.56 L528.79,419.54 L530.40,418.51 L532.02,417.49 L533.64,416.47 L535.26,415.46 L536.88,414.44 L538.51,413.43 L540.13,412.42 L541.76,411.41 L543.38,410.40 L545.01,409.39 L546.63,408.39 L548.26,407.38 L549.89,406.38 L551.52,405.38 L553.15,404.38 L554.78,403.38 L556.41,402.38 L558.04,401.39 L559.67,400.39 L561.30,399.40 L562.94,398.40 L564.57,397.41 L566.20,396.42 L567.84,395.43 L569.47,394.44 L571.10,393.44 L572.74,392.45 L574.37,391.46 L576.00,390.47 L577.64,389.48 L579.27,388.49 L580.90,387.50 L582.54,386.51 L584.17,385.52 L585.80,384.53 L587.44,383.54 L589.07,382.55 L590.70,381.56 L592.33,380.57 L593.97,379.58 L595.60,378.58 L597.23,377.59 L598.86,376.60 L600.49,375.60 L602.11,374.61 L603.74,373.61 L605.37,372.61 L607.00,371.61 L608.62,370.61 L610.25,369.61 L611.87,368.60 L613.49,367.60 L615.12,366.59 L616.74,365.58 L618.36,364.57 L619.98,363.56 L621.59,362.55 L623.21,361.53 L624.83,360.52 L626.44,359.50 L628.05,358.48 L629.66,357.45 L631.27,356.43 L632.88,355.40 L634.49,354.37 L636.10,353.34 L637.70,352.30 L639.30,351.27 L640.90,350.22 L642.50,349.18 L644.10,348.14 L645.70,347.09 L647.29,346.03 L648.88,344.98 L650.47,343.92 L652.06,342.86 L653.65,341.80 L655.23,340.73 L656.82,339.66 L658.40,338.58 L659.98,337.50 L661.55,336.42 L663.13,335.34 L664.70,334.25 L666.27,333.15 L667.84,332.06 L669.40,330.96 L670.96,329.85 L672.52,328.74" fill="none" stroke="#000" stroke-width="4.85" stroke-dasharray="17.95 7.76"/>
<path d="M459.80,454.70V463.90 M455.20,454.70h9.20 M455.20,463.90h9.20 M452.20,449.10H481.80 M452.20,444.50v9.20 M481.80,444.50v9.20 M467.00,445.10V453.10 M462.40,445.10h9.20 M462.40,453.10h9.20 M476.20,445.60V453.60 M471.60,445.60h9.20 M471.60,453.60h9.20 M478.20,454.70V463.90 M473.60,454.70h9.20 M473.60,463.90h9.20 M488.40,421.50V434.90 M483.80,421.50h9.20 M483.80,434.90h9.20 M490.00,431.30V440.30 M485.40,431.30h9.20 M485.40,440.30h9.20 M497.50,438.60H508.70 M497.50,434.00v9.20 M508.70,434.00v9.20 M503.10,434.10V443.10 M498.50,434.10h9.20 M498.50,443.10h9.20 M504.30,408.90H521.90 M504.30,404.30v9.20 M521.90,404.30v9.20 M513.10,404.20V413.60 M508.50,404.20h9.20 M508.50,413.60h9.20 M516.20,431.70H539.80 M516.20,427.10v9.20 M539.80,427.10v9.20 M523.80,454.70H542.40 M523.80,450.10v9.20 M542.40,450.10v9.20 M533.10,449.70V459.70 M528.50,449.70h9.20 M528.50,459.70h9.20 M548.80,402.20H570.80 M548.80,397.60v9.20 M570.80,397.60v9.20 M559.80,398.50V414.50 M555.20,398.50h9.20 M555.20,414.50h9.20 M603.10,363.20H644.30 M603.10,358.60v9.20 M644.30,358.60v9.20 M623.70,350.70V375.70 M619.10,350.70h9.20 M619.10,375.70h9.20 M601.80,381.30H655.80 M601.80,376.70v9.20 M655.80,376.70v9.20 M628.80,360.30V402.30 M624.20,360.30h9.20 M624.20,402.30h9.20" fill="none" stroke="#eda0a0" stroke-width="1.4"/>
<circle cx="459.80" cy="459.30" r="4.45" fill="#ea7f80" stroke="#000" stroke-width="1.0"/>
<circle cx="467.00" cy="449.10" r="4.45" fill="#ea7f80" stroke="#000" stroke-width="1.0"/>
<circle cx="469.50" cy="449.60" r="4.45" fill="#ea7f80" stroke="#000" stroke-width="1.0"/>
<circle cx="476.20" cy="449.60" r="4.45" fill="#ea7f80" stroke="#000" stroke-width="1.0"/>
<circle cx="478.20" cy="459.30" r="4.45" fill="#ea7f80" stroke="#000" stroke-width="1.0"/>
<circle cx="486.90" cy="450.70" r="4.45" fill="#ea7f80" stroke="#000" stroke-width="1.0"/>
<circle cx="477.20" cy="429.20" r="4.45" fill="#ea7f80" stroke="#000" stroke-width="1.0"/>
<circle cx="483.80" cy="429.70" r="4.45" fill="#ea7f80" stroke="#000" stroke-width="1.0"/>
<circle cx="488.40" cy="428.20" r="4.45" fill="#ea7f80" stroke="#000" stroke-width="1.0"/>
<circle cx="493.00" cy="429.70" r="4.45" fill="#ea7f80" stroke="#000" stroke-width="1.0"/>
<circle cx="490.00" cy="435.80" r="4.45" fill="#ea7f80" stroke="#000" stroke-width="1.0"/>
<circle cx="505.60" cy="431.10" r="4.45" fill="#ea7f80" stroke="#000" stroke-width="1.0"/>
<circle cx="503.10" cy="438.60" r="4.45" fill="#ea7f80" stroke="#000" stroke-width="1.0"/>
<circle cx="513.10" cy="408.90" r="4.45" fill="#ea7f80" stroke="#000" stroke-width="1.0"/>
<circle cx="521.80" cy="424.30" r="4.45" fill="#ea7f80" stroke="#000" stroke-width="1.0"/>
<circle cx="521.20" cy="429.20" r="4.45" fill="#ea7f80" stroke="#000" stroke-width="1.0"/>
<circle cx="519.90" cy="432.40" r="4.45" fill="#ea7f80" stroke="#000" stroke-width="1.0"/>
<circle cx="528.00" cy="431.70" r="4.45" fill="#ea7f80" stroke="#000" stroke-width="1.0"/>
<circle cx="528.00" cy="436.10" r="4.45" fill="#ea7f80" stroke="#000" stroke-width="1.0"/>
<circle cx="533.10" cy="454.70" r="4.45" fill="#ea7f80" stroke="#000" stroke-width="1.0"/>
<circle cx="559.80" cy="402.20" r="4.45" fill="#ea7f80" stroke="#000" stroke-width="1.0"/>
<circle cx="559.80" cy="406.50" r="4.45" fill="#ea7f80" stroke="#000" stroke-width="1.0"/>
<circle cx="623.70" cy="363.20" r="4.45" fill="#ea7f80" stroke="#000" stroke-width="1.0"/>
<circle cx="628.80" cy="381.30" r="4.45" fill="#ea7f80" stroke="#000" stroke-width="1.0"/>
</g>
<rect x="429.30" y="317.50" width="253.80" height="198.00" fill="none" stroke="#3a3a3a" stroke-width="1.1"/>
<path d="M440.00,515.50v3.5 M506.10,515.50v3.5 M572.20,515.50v3.5 M638.30,515.50v3.5 M429.30,515.50h-3.5 M429.30,475.90h-3.5 M429.30,436.30h-3.5 M429.30,396.70h-3.5 M429.30,357.10h-3.5 M429.30,317.50h-3.5" stroke="#3a3a3a" stroke-width="1.1" fill="none"/>
<rect x="435.8" y="323.9" width="144.9" height="44.4" rx="2.5" fill="#fff" fill-opacity="0.8" stroke="#d9d9d9" stroke-width="1"/>
<path d="M441.7,335.6H459.9 M467.4,335.6H469.4" stroke="#000" stroke-width="4.8"/>
<circle cx="455.2" cy="356.6" r="4.45" fill="#ea7f80" stroke="#000" stroke-width="1.0"/>
<g fill="#000">
<circle cx="28.2" cy="139.2" r="1.1"/><circle cx="28.2" cy="79.9" r="1.1"/>
<rect x="40.05" y="102.6" width="1.3" height="4.4"/><rect x="40.05" y="109.2" width="1.3" height="4.4"/><rect x="40.05" y="115.6" width="1.3" height="4.2"/>
<rect x="39.3" y="36.2" width="1.3" height="10.4"/>
<rect x="77.8" y="152.1" width="7.7" height="1.2"/>
</g>
<g id="texts">
<g id="la" transform="matrix(0.95087 0 0 0.96628 -4.217 -6.511)"><text transform="rotate(0.05 4.00 36.00)" x="4.00" y="36.00" style="font-size:52.00px;font-weight:bold">a</text></g>
<g id="lb" transform="matrix(1.05198 0 0 1.01340 -6.742 -8.915)"><text transform="rotate(0.05 4.00 310.00)" x="4.00" y="310.00" style="font-size:52.00px;font-weight:bold">b</text></g>
<g id="lc" transform="matrix(1.05224 0 0 0.99417 -22.188 -7.250)"><text transform="rotate(0.05 335.00 36.00)" x="335.00" y="36.00" style="font-size:52.00px;font-weight:bold">c</text></g>
<g id="ld" transform="matrix(1.04558 0 0 1.01309 -16.380 -3.765)"><text transform="rotate(0.05 331.00 305.00)" x="331.00" y="305.00" style="font-size:52.00px;font-weight:bold">d</text></g>
<g id="axt0" transform="matrix(1.16065 0 0 0.97347 -18.221 6.681)"><text transform="rotate(0.05 85.50 247.50)" x="85.50" y="247.50" style="font-size:17.20px">0.00</text></g>
<g id="axt1" transform="matrix(1.16363 0 0 0.97159 -27.488 7.148)"><text transform="rotate(0.05 141.05 247.50)" x="141.05" y="247.50" style="font-size:17.20px">0.25</text></g>
<g id="axt2" transform="matrix(1.16065 0 0 0.97442 -35.952 6.446)"><text transform="rotate(0.05 196.60 247.50)" x="196.60" y="247.50" style="font-size:17.20px">0.50</text></g>
<g id="axt3" transform="matrix(1.17267 0 0 0.97663 -48.125 5.898)"><text transform="rotate(0.05 252.15 247.50)" x="252.15" y="247.50" style="font-size:17.20px">0.75</text></g>
<g id="axt4" transform="matrix(1.20155 0 0 0.97442 -67.607 6.446)"><text transform="rotate(0.05 307.70 247.50)" x="307.70" y="247.50" style="font-size:17.20px">1.00</text></g>
<g id="axl" transform="matrix(1.22565 0 0 1.00000 -37.975 0.000)"><text transform="rotate(0.05 165.00 268.90)" x="165.00" y="268.90" style="font-size:17.20px">Velocity,</text></g>
<g id="axl2" transform="matrix(1.05241 0 0 1.00000 -14.420 0.000)"><text transform="rotate(0.05 247.00 268.90)" x="247.00" y="268.90" style="font-size:17.20px;font-style:italic">V</text></g>
<g id="ay0" transform="matrix(1.12837 0 0 1.06663 -9.135 -3.895)"><text transform="rotate(0.05 65.00 60.00)" x="65.00" y="60.00" style="font-size:17.20px">10</text></g>
<g id="ay0s" transform="matrix(1.09336 0 0 1.12800 -8.973 -6.609)"><text transform="rotate(0.05 88.00 53.50)" x="88.00" y="53.50" style="font-size:12.00px">0</text></g>
<g id="ay1" transform="matrix(1.15776 0 0 1.09971 -9.707 -16.555)"><text transform="rotate(0.05 55.00 163.00)" x="55.00" y="163.00" style="font-size:17.20px">10</text></g>
<g id="ay1s" transform="matrix(1.10197 0 0 1.06654 -10.080 -10.180)"><text transform="rotate(0.05 88.00 156.00)" x="88.00" y="156.00" style="font-size:12.00px">1</text></g>
<g id="ayl1" transform="matrix(1.00000 0 0 1.11133 0.000 -22.136)"><text transform="translate(45.40,213.00) rotate(-89.95)" x="0" y="0" style="font-size:17.20px">Power,</text></g>
<g id="ayl2" transform="matrix(1.00000 0 0 0.99042 0.000 2.995)"><text transform="translate(45.40,148.00) rotate(-89.95)" x="0" y="0" style="font-size:17.20px;font-style:italic">W</text></g>
<g id="ayl3" transform="matrix(1.00000 0 0 1.22515 0.000 -28.910)"><text transform="translate(47.80,132.00) rotate(-89.95)" x="0" y="0" style="font-size:12.20px;font-style:italic">in</text></g>
<g id="ayl4" transform="matrix(1.00000 0 0 1.00000 0.000 0.000)"><text transform="translate(45.40,101.00) rotate(-89.95)" x="0" y="0" style="font-size:17.20px">,</text></g>
<g id="ayl5" transform="matrix(1.00000 0 0 0.99167 0.000 2.362)"><text transform="translate(45.40,88.80) rotate(-89.95)" x="0" y="0" style="font-size:17.20px;font-style:italic">W</text></g>
<g id="ayl6" transform="matrix(1.00000 0 0 1.25550 0.000 -18.116)"><text transform="translate(47.80,73.20) rotate(-89.95)" x="0" y="0" style="font-size:12.20px;font-style:italic">out</text></g>
<g id="alg0" transform="matrix(1.15560 0 0 1.07115 -43.668 -8.014)"><text transform="rotate(0.05 277.00 109.20)" x="277.00" y="109.20" style="font-size:13.20px"><tspan style="font-style:italic">α</tspan> = 1</text></g>
<g id="alg1" transform="matrix(1.15481 0 0 1.06605 -43.453 -8.717)"><text transform="rotate(0.05 277.00 129.00)" x="277.00" y="129.00" style="font-size:13.20px"><tspan style="font-style:italic">α</tspan> = 2</text></g>
<g id="alg2" transform="matrix(1.15229 0 0 1.06978 -42.748 -10.554)"><text transform="rotate(0.05 277.00 149.30)" x="277.00" y="149.30" style="font-size:13.20px"><tspan style="font-style:italic">α</tspan> = 5</text></g>
<g id="bxt0" transform="matrix(1.16913 0 0 1.02297 -17.970 -12.295)"><text transform="rotate(0.05 79.30 535.50)" x="79.30" y="535.50" style="font-size:17.20px">0.00</text></g>
<g id="bxt1" transform="matrix(1.17299 0 0 1.02099 -27.927 -11.233)"><text transform="rotate(0.05 135.05 535.50)" x="135.05" y="535.50" style="font-size:17.20px">0.25</text></g>
<g id="bxt2" transform="matrix(1.16998 0 0 1.02297 -37.003 -12.295)"><text transform="rotate(0.05 190.80 535.50)" x="190.80" y="535.50" style="font-size:17.20px">0.50</text></g>
<g id="bxt3" transform="matrix(1.17299 0 0 1.02596 -47.236 -13.871)"><text transform="rotate(0.05 246.55 535.50)" x="246.55" y="535.50" style="font-size:17.20px">0.75</text></g>
<g id="bxt4" transform="matrix(1.19611 0 0 1.02297 -64.727 -12.295)"><text transform="rotate(0.05 302.30 535.50)" x="302.30" y="535.50" style="font-size:17.20px">1.00</text></g>
<g id="bxl" transform="matrix(1.22478 0 0 1.00000 -37.864 0.000)"><text transform="rotate(0.05 160.00 556.60)" x="160.00" y="556.60" style="font-size:17.20px">Velocity,</text></g>
<g id="bxl2" transform="matrix(1.05743 0 0 1.00000 -15.295 0.000)"><text transform="rotate(0.05 241.00 556.60)" x="241.00" y="556.60" style="font-size:17.20px;font-style:italic">V</text></g>
<g id="byt0" transform="matrix(1.16136 0 0 1.05837 -9.797 -29.719)"><text transform="rotate(0.05 50.00 513.20)" x="50.00" y="513.20" style="font-size:17.20px">0.00</text></g>
<g id="byt1" transform="matrix(1.16406 0 0 1.05768 -9.938 -25.701)"><text transform="rotate(0.05 50.00 449.98)" x="50.00" y="449.98" style="font-size:17.20px">0.15</text></g>
<g id="byt2" transform="matrix(1.16136 0 0 1.05563 -9.792 -21.220)"><text transform="rotate(0.05 50.00 386.75)" x="50.00" y="386.75" style="font-size:17.20px">0.30</text></g>
<g id="byt3" transform="matrix(1.16363 0 0 1.05837 -9.898 -18.558)"><text transform="rotate(0.05 50.00 323.52)" x="50.00" y="323.52" style="font-size:17.20px">0.45</text></g>
<g id="byl" transform="matrix(1.00000 0 0 1.17980 0.000 -82.366)"><text transform="translate(39.70,468.00) rotate(-89.95)" x="0" y="0" style="font-size:17.20px">Efficiency,</text></g>
<g id="byl2" transform="matrix(1.00000 0 0 1.21983 0.000 -81.394)"><text transform="translate(39.70,373.00) rotate(-89.95)" x="0" y="0" style="font-size:17.20px;font-style:italic">η</text></g>
<g id="blg0" transform="matrix(1.17903 0 0 1.07403 -49.196 -25.255)"><text transform="rotate(0.05 271.50 340.25)" x="271.50" y="340.25" style="font-size:13.20px"><tspan style="font-style:italic">α</tspan> = 1</text></g>
<g id="blg1" transform="matrix(1.18082 0 0 1.04588 -49.691 -16.539)"><text transform="rotate(0.05 271.50 360.55)" x="271.50" y="360.55" style="font-size:13.20px"><tspan style="font-style:italic">α</tspan> = 2</text></g>
<g id="blg2" transform="matrix(1.17113 0 0 1.05705 -47.048 -21.758)"><text transform="rotate(0.05 271.50 380.85)" x="271.50" y="380.85" style="font-size:13.20px"><tspan style="font-style:italic">α</tspan> = 5</text></g>
<g id="cxt0" transform="matrix(1.18000 0 0 0.99822 -78.482 0.551)"><text transform="rotate(0.05 432.80 247.50)" x="432.80" y="247.50" style="font-size:17.20px">0</text></g>
<g id="cxt1" transform="matrix(1.18000 0 0 1.01765 -90.664 -4.209)"><text transform="rotate(0.05 499.50 247.50)" x="499.50" y="247.50" style="font-size:17.20px">5</text></g>
<g id="cxt2" transform="matrix(1.18000 0 0 0.99822 -108.640 0.551)"><text transform="rotate(0.05 566.20 247.50)" x="566.20" y="247.50" style="font-size:17.20px">10</text></g>
<g id="cxt3" transform="matrix(1.18000 0 0 1.01765 -120.703 -4.209)"><text transform="rotate(0.05 632.90 247.50)" x="632.90" y="247.50" style="font-size:17.20px">15</text></g>
<g id="cxl" transform="matrix(1.20380 0 0 1.00000 -100.771 0.000)"><text transform="rotate(0.05 491.00 268.90)" x="491.00" y="268.90" style="font-size:17.20px">Nonlinearity,</text></g>
<g id="cxl2" transform="matrix(1.15419 0 0 1.00000 -94.711 0.000)"><text transform="rotate(0.05 609.00 268.90)" x="609.00" y="268.90" style="font-size:17.20px;font-style:italic">α</text></g>
<g id="cyt0" transform="matrix(1.13979 0 0 1.05355 -55.595 -12.149)"><text transform="rotate(0.05 394.00 234.10)" x="394.00" y="234.10" style="font-size:17.20px">0.0</text></g>
<g id="cyt1" transform="matrix(1.15909 0 0 1.05218 -63.195 -9.970)"><text transform="rotate(0.05 394.00 194.38)" x="394.00" y="194.38" style="font-size:17.20px">0.2</text></g>
<g id="cyt2" transform="matrix(1.12832 0 0 1.05253 -51.058 -7.924)"><text transform="rotate(0.05 394.00 154.66)" x="394.00" y="154.66" style="font-size:17.20px">0.4</text></g>
<g id="cyt3" transform="matrix(1.14521 0 0 1.05082 -57.734 -5.623)"><text transform="rotate(0.05 394.00 114.94)" x="394.00" y="114.94" style="font-size:17.20px">0.6</text></g>
<g id="cyt4" transform="matrix(1.14541 0 0 1.05253 -57.810 -3.694)"><text transform="rotate(0.05 394.00 75.22)" x="394.00" y="75.22" style="font-size:17.20px">0.8</text></g>
<g id="cyt5" transform="matrix(1.17970 0 0 1.05663 -72.264 -1.695)"><text transform="rotate(0.05 394.00 35.50)" x="394.00" y="35.50" style="font-size:17.20px">1.0</text></g>
<g id="cyl" transform="matrix(1.00000 0 0 1.15194 0.000 -33.892)"><text transform="translate(384.70,234.80) rotate(-89.95)" x="0" y="0" style="font-size:17.20px">Power Characteristic,</text></g>
<g id="cyl2" transform="matrix(1.00000 0 0 0.97209 0.000 1.684)"><text transform="translate(384.70,44.00) rotate(-89.95)" x="0" y="0" style="font-size:17.20px;font-style:italic">PC</text></g>
<g id="clg0" transform="matrix(1.05505 0 0 1.03582 -32.481 -2.038)"><text transform="rotate(0.05 576.00 52.60)" x="576.00" y="52.60" style="font-size:14.60px">2-State Model</text></g>
<g id="clg1" transform="matrix(1.08299 0 0 1.00000 -48.273 0.000)"><text transform="rotate(0.05 576.00 72.10)" x="576.00" y="72.10" style="font-size:14.60px;font-style:italic">in-vivo</text></g>
<g id="clg2" transform="matrix(1.00640 0 0 1.00000 -5.451 0.000)"><text transform="rotate(0.05 628.00 72.10)" x="628.00" y="72.10" style="font-size:14.60px">Data</text></g>
<g id="dxt0" transform="matrix(1.18000 0 0 0.98331 -78.927 9.124)"><text transform="rotate(0.05 435.00 535.00)" x="435.00" y="535.00" style="font-size:17.20px">0</text></g>
<g id="dxt1" transform="matrix(1.18000 0 0 0.99655 -90.763 2.038)"><text transform="rotate(0.05 501.10 535.00)" x="501.10" y="535.00" style="font-size:17.20px">5</text></g>
<g id="dxt2" transform="matrix(1.18000 0 0 0.98109 -108.741 10.315)"><text transform="rotate(0.05 567.20 535.00)" x="567.20" y="535.00" style="font-size:17.20px">10</text></g>
<g id="dxt3" transform="matrix(1.18000 0 0 0.99786 -120.489 1.352)"><text transform="rotate(0.05 633.30 535.00)" x="633.30" y="535.00" style="font-size:17.20px">15</text></g>
<g id="dxl" transform="matrix(1.20698 0 0 1.00000 -101.438 0.000)"><text transform="rotate(0.05 491.00 556.60)" x="491.00" y="556.60" style="font-size:17.20px">Nonlinearity,</text></g>
<g id="dxl2" transform="matrix(1.16362 0 0 1.00000 -99.582 0.000)"><text transform="rotate(0.05 609.00 556.60)" x="609.00" y="556.60" style="font-size:17.20px;font-style:italic">α</text></g>
<g id="dyt0" transform="matrix(1.14246 0 0 1.06663 -57.315 -34.353)"><text transform="rotate(0.05 396.00 521.50)" x="396.00" y="521.50" style="font-size:17.20px">0.0</text></g>
<g id="dyt1" transform="matrix(1.15356 0 0 1.06387 -61.738 -30.509)"><text transform="rotate(0.05 396.00 481.90)" x="396.00" y="481.90" style="font-size:17.20px">0.2</text></g>
<g id="dyt2" transform="matrix(1.14066 0 0 1.06663 -56.616 -29.033)"><text transform="rotate(0.05 396.00 442.30)" x="396.00" y="442.30" style="font-size:17.20px">0.4</text></g>
<g id="dyt3" transform="matrix(1.15092 0 0 1.06216 -60.680 -24.691)"><text transform="rotate(0.05 396.00 402.70)" x="396.00" y="402.70" style="font-size:17.20px">0.6</text></g>
<g id="dyt4" transform="matrix(1.14889 0 0 1.06422 -59.885 -22.833)"><text transform="rotate(0.05 396.00 363.10)" x="396.00" y="363.10" style="font-size:17.20px">0.8</text></g>
<g id="dyt5" transform="matrix(1.18433 0 0 1.06906 -74.862 -21.928)"><text transform="rotate(0.05 396.00 323.50)" x="396.00" y="323.50" style="font-size:17.20px">1.0</text></g>
<g id="dyl" transform="matrix(1.00000 0 0 1.16640 0.000 -80.106)"><text transform="translate(386.10,492.00) rotate(-89.95)" x="0" y="0" style="font-size:17.20px">Max. Efficiency,</text></g>
<g id="dyl2" transform="matrix(1.00000 0 0 1.11810 0.000 -40.815)"><text transform="translate(386.10,349.00) rotate(-89.95)" x="0" y="0" style="font-size:17.20px;font-style:italic">η</text></g>
<g id="dlg0" transform="matrix(1.06405 0 0 1.05570 -31.423 -19.263)"><text transform="rotate(0.05 480.00 340.40)" x="480.00" y="340.40" style="font-size:14.60px">2-State Model</text></g>
<g id="dlg1" transform="matrix(1.08366 0 0 1.00000 -40.028 0.000)"><text transform="rotate(0.05 480.00 360.50)" x="480.00" y="360.50" style="font-size:14.60px;font-style:italic">in-vivo</text></g>
<g id="dlg2" transform="matrix(1.01370 0 0 1.00000 -8.728 0.000)"><text transform="rotate(0.05 532.00 360.50)" x="532.00" y="360.50" style="font-size:14.60px">Data</text></g>
<g id="dN" transform="matrix(1.11906 0 0 1.06491 -70.780 -30.841)"><text transform="rotate(0.05 586.00 475.50)" x="586.00" y="475.50" style="font-size:17.20px"><tspan style="font-style:italic">N</tspan> = 26</text></g>
</g>
</svg>
</body></html>
